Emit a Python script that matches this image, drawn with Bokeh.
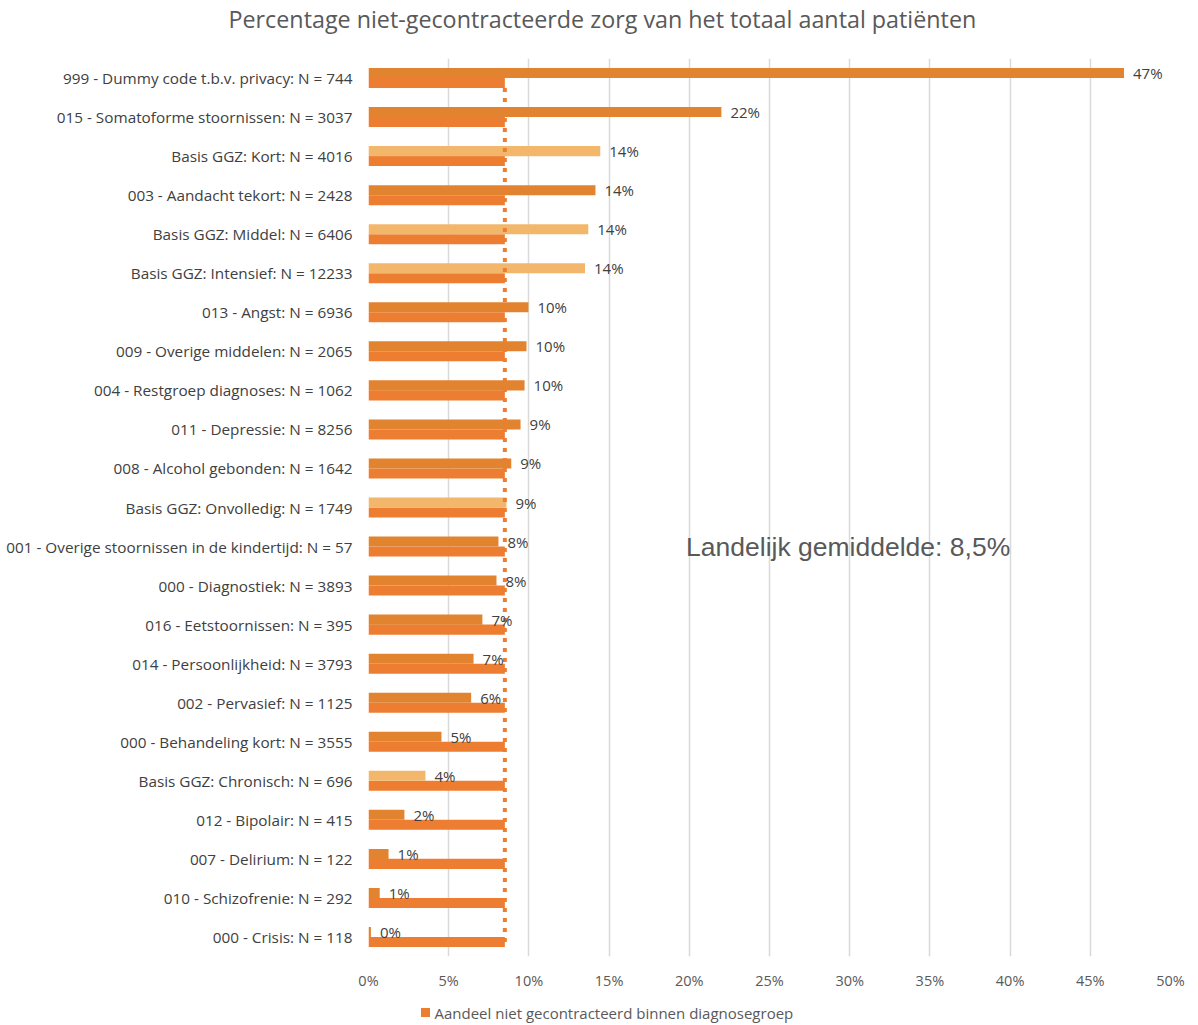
from bokeh.plotting import figure
from bokeh.layouts import column
from bokeh.models import ColumnDataSource, FactorRange, FixedTicker, PrintfTickFormatter, Title
from bokeh.transform import dodge
from bokeh.core.properties import value
from bokeh.embed import file_html
from bokeh.resources import INLINE

title_text = "Percentage niet-gecontracteerde zorg van het totaal aantal patiënten"
legend_text = "Aandeel niet gecontracteerd binnen diagnosegroep"
avg_text = "Landelijk gemiddelde: 8,5%"

categories = [
    "999 - Dummy code t.b.v. privacy: N = 744",
    "015 - Somatoforme stoornissen: N = 3037",
    "Basis GGZ: Kort: N = 4016",
    "003 - Aandacht tekort: N = 2428",
    "Basis GGZ: Middel: N = 6406",
    "Basis GGZ: Intensief: N = 12233",
    "013 - Angst: N = 6936",
    "009 - Overige middelen: N = 2065",
    "004 - Restgroep diagnoses: N = 1062",
    "011 - Depressie: N = 8256",
    "008 - Alcohol gebonden: N = 1642",
    "Basis GGZ: Onvolledig: N = 1749",
    "001 - Overige stoornissen in de kindertijd: N = 57",
    "000 - Diagnostiek: N = 3893",
    "016 - Eetstoornissen: N = 395",
    "014 - Persoonlijkheid: N = 3793",
    "002 - Pervasief: N = 1125",
    "000 - Behandeling kort: N = 3555",
    "Basis GGZ: Chronisch: N = 696",
    "012 - Bipolair: N = 415",
    "007 - Delirium: N = 122",
    "010 - Schizofrenie: N = 292",
    "000 - Crisis: N = 118",
]
values = [47.1, 22.0, 14.45, 14.15, 13.7, 13.5, 9.97, 9.85, 9.73, 9.48, 8.9, 8.6,
          8.1, 7.98, 7.1, 6.55, 6.4, 4.55, 3.55, 2.24, 1.25, 0.7, 0.15]
national_avg = 8.5
x_ticks = [0, 5, 10, 15, 20, 25, 30, 35, 40, 45, 50]

DARK = "#E2832F"
LIGHT = "#F3B76B"
AVG_C = "#ED7D31"
TXT = "#595959"
colors = [LIGHT if c.startswith("Basis GGZ") else DARK for c in categories]
labels = [f"{v:.0f}%" for v in values]

W = 1190
LEFT = 368
RIGHT = 20

# ---- header with the chart title ----
header = figure(width=W, height=40, output_backend="svg", toolbar_location=None,
                x_range=(LEFT, W - RIGHT), y_range=(0, 1), min_border=0,
                min_border_left=LEFT, min_border_right=RIGHT, min_border_top=0,
                min_border_bottom=0, x_axis_location=None, y_axis_location=None)
header.outline_line_color = None
header.grid.visible = False
header.add_layout(Title(text=title_text, align="left", offset=-140, standoff=0,
                        text_font="Open Sans", text_font_size="23.3px",
                        text_font_style="normal", text_color=TXT), "above")

# ---- main chart ----
src = ColumnDataSource(dict(cat=categories, val=values, avg=[national_avg] * len(categories),
                            color=colors, label=labels))

p = figure(width=W, height=955, output_backend="svg", toolbar_location=None,
           y_range=FactorRange(factors=list(reversed(categories)), range_padding=0),
           x_range=(0, 50), min_border_left=LEFT, min_border_right=RIGHT,
           min_border_top=18, min_border_bottom=39)
p.outline_line_color = None
p.background_fill_color = "white"

BAR_H = 0.257
OFF = 0.128
p.hbar(y=dodge("cat", -OFF, range=p.y_range), right="avg", left=0, height=BAR_H,
       color=AVG_C, line_color=None, source=src)
p.hbar(y=dodge("cat", OFF, range=p.y_range), right="val", left=0, height=BAR_H,
       fill_color="color", line_color=None, source=src)

seg = ColumnDataSource(dict(x=[national_avg], y0=[categories[0]], y1=[categories[-1]]))
p.segment(x0="x", x1="x", y0=dodge("y0", -2 * OFF, range=p.y_range),
          y1=dodge("y1", -2 * OFF, range=p.y_range), line_color=AVG_C, line_width=4,
          line_dash="4 6", source=seg)

p.text(x="val", y=dodge("cat", OFF, range=p.y_range), text="label", x_offset=9,
       text_baseline="middle", text_align="left", text_font=value("Open Sans"),
       text_font_size="15px", text_color="#404040", source=src)

p.text(x=[19.8], y=[categories[12]], text=[avg_text], text_baseline="middle",
       text_font=value("Liberation Sans"), text_font_size="26.5px", text_color=TXT)

p.xaxis.ticker = FixedTicker(ticks=x_ticks)
p.xaxis.formatter = PrintfTickFormatter(format="%d%%")
p.xaxis.axis_line_color = None
p.xaxis.major_tick_line_color = None
p.xaxis.minor_tick_line_color = None
p.xaxis.major_tick_out = 0
p.xaxis.major_tick_in = 0
p.xaxis.major_label_standoff = 14
p.xaxis.major_label_text_font = "Open Sans"
p.xaxis.major_label_text_font_size = "14.5px"
p.xaxis.major_label_text_color = TXT

p.yaxis.axis_line_color = None
p.yaxis.major_tick_line_color = None
p.yaxis.minor_tick_line_color = None
p.yaxis.major_tick_out = 0
p.yaxis.major_tick_in = 0
p.yaxis.major_label_standoff = 16
p.yaxis.major_label_text_font = "Open Sans"
p.yaxis.major_label_text_font_size = "15.3px"
p.yaxis.major_label_text_color = "#404040"

p.xgrid.ticker = FixedTicker(ticks=x_ticks)
p.xgrid.grid_line_color = "#D9D9D9"
p.xgrid.grid_line_width = 1.5
p.ygrid.grid_line_color = None

# ---- footer with the legend (x range = page pixels of the aligned frame) ----
footer = figure(width=W, height=30, output_backend="svg", toolbar_location=None,
                x_range=(LEFT, W - RIGHT), y_range=(0, 30), min_border=0,
                min_border_left=LEFT, min_border_right=RIGHT, min_border_top=0,
                min_border_bottom=0, x_axis_location=None, y_axis_location=None)
footer.outline_line_color = None
footer.grid.visible = False
footer.rect(x=[425], y=[13], width=9, height=9, color=AVG_C, line_color=None)
footer.text(x=[434], y=[13], text=[legend_text], text_align="left", text_baseline="middle",
            text_font=value("Open Sans"), text_font_size="15px", text_color=TXT)

layout = column(header, p, footer, spacing=0)
open("out.html", "w").write(file_html(layout, INLINE))
